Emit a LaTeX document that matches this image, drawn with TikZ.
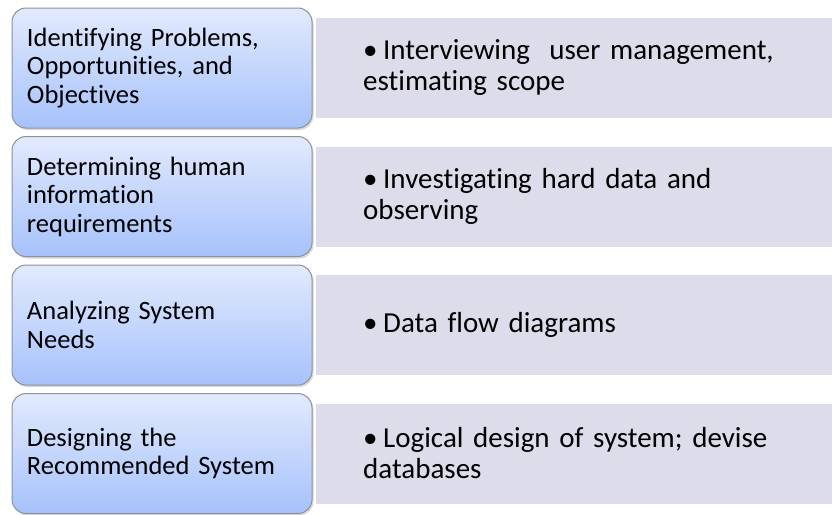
\documentclass[tikz,border=0pt]{standalone}
\usepackage{fontspec}
\setmainfont{Carlito}[Ligatures=NoCommon]
\usetikzlibrary{positioning,shadows}
\definecolor{stageTop}{HTML}{E2EAFD}
\definecolor{stageBottom}{HTML}{A6C2FB}
\definecolor{stageBorder}{HTML}{8C929C}
\definecolor{taskFill}{HTML}{DCDCEA}
\tikzset{
  stage/.style={draw=stageBorder, line width=1pt, rounded corners=14pt,
    top color=stageTop, bottom color=stageBottom,
    minimum width=300pt, minimum height=120pt, inner xsep=15pt,
    text width=270pt, align=left, font=\fontsize{26.5}{28.5}\selectfont,
    drop shadow={opacity=0.3, shadow xshift=1.5pt, shadow yshift=-2pt}},
  task/.style={fill=taskFill, minimum width=516pt, minimum height=100pt, anchor=west},
  tasktext/.style={anchor=west, inner sep=0pt, text width=450pt,
    font=\fontsize{29}{31}\selectfont},
}
\newcommand{\bulletline}[1]{\raggedright\hangindent=20pt\hangafter=1
  \makebox[20pt][l]{\textbullet}#1}

\begin{document}
\begin{tikzpicture}[x=1pt, y=-1pt]
  \useasboundingbox (0,0) rectangle (832,514);

  % Task bands
  \node[task] (t1) at (316,68) {};
  \node[task] (t2) at (316,196.5) {};
  \node[task] (t3) at (316,325) {};
  \node[task] (t4) at (316,453.5) {};

  \node[tasktext] (d1) at ([xshift=47pt]t1.west) {\bulletline{Interviewing\ \ user management,\newline estimating scope}};
  \node[tasktext] (d2) at ([xshift=47pt]t2.west) {\bulletline{Investigating hard data and\newline observing}};
  \node[tasktext] (d3) at ([xshift=47pt]t3.west) {\bulletline{Data flow diagrams}};
  \node[tasktext] (d4) at ([xshift=47pt]t4.west) {\bulletline{Logical design of system; devise\newline databases}};

  % Stages
  \node[stage] (s1) at (162,68) {Identifying Problems,\\Opportunities, and\\Objectives};
  \node[stage] (s2) at (162,196.5) {Determining human\\information\\requirements};
  \node[stage] (s3) at (162,325) {Analyzing System\\Needs};
  \node[stage] (s4) at (162,453.5) {Designing the\\Recommended System};
\end{tikzpicture}
\end{document}
